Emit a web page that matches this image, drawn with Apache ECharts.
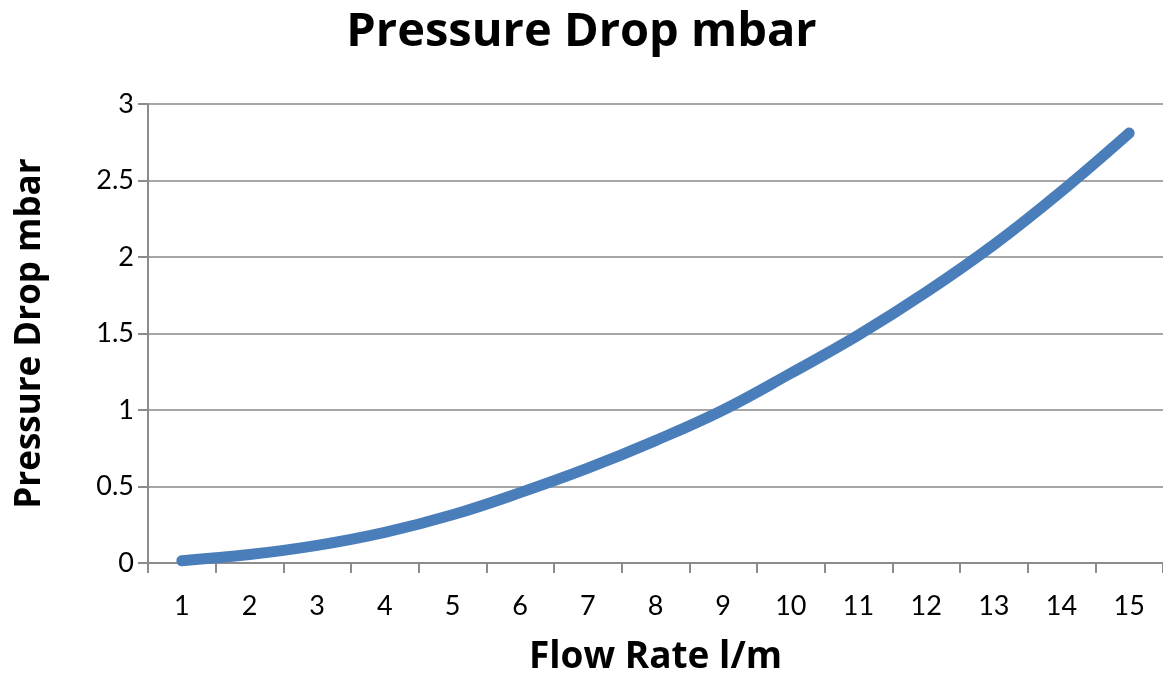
<!DOCTYPE html>
<html>
<head>
<meta charset="utf-8">
<script src="https://cdn.jsdelivr.net/npm/echarts@6/dist/echarts.min.js"></script>
<style>
  html, body { margin: 0; padding: 0; background: #fff; }
  #chart { width: 1163px; height: 681px; }
</style>
</head>
<body>
<div id="chart"></div>
<script>
// flow rate l/m
var flowRates = ['1', '2', '3', '4', '5', '6', '7', '8', '9', '10', '11', '12', '13', '14', '15'];
// pressure drop mbar
var pressureDrop = [0.015, 0.055, 0.115, 0.2, 0.315, 0.46, 0.62, 0.8, 1.0, 1.24, 1.49, 1.77, 2.08, 2.43, 2.81];
var yTicks = { min: 0, max: 3, interval: 0.5 };

var titleFont = '"Open Sans", Lato, sans-serif';
var tickFont = 'Lato, "Open Sans", sans-serif';
var axisGrey = '#8c8c8c';

var myChart = echarts.init(document.getElementById('chart'));
myChart.setOption({
    animation: false,
    title: {
        text: 'Pressure Drop mbar',
        left: 'center',
        top: 4,
        textStyle: { fontFamily: titleFont, fontSize: 47, fontWeight: 'bold', color: '#000' }
    },
    grid: { left: 148, right: 0, top: 104, bottom: 118 },
    xAxis: {
        type: 'category',
        data: flowRates,
        boundaryGap: true,
        name: 'Flow Rate l/m',
        nameLocation: 'middle',
        nameGap: 76,
        nameTextStyle: { fontFamily: titleFont, fontSize: 37, fontWeight: 'bold', color: '#000' },
        axisLine: { lineStyle: { color: axisGrey, width: 2 } },
        axisTick: { show: true, length: 10, lineStyle: { color: axisGrey, width: 2 } },
        axisLabel: { fontFamily: tickFont, fontSize: 27, color: '#000', margin: 30 }
    },
    yAxis: {
        type: 'value',
        min: yTicks.min,
        max: yTicks.max,
        interval: yTicks.interval,
        name: 'Pressure Drop mbar',
        nameLocation: 'middle',
        nameGap: 100,
        nameTextStyle: { fontFamily: titleFont, fontSize: 35, fontWeight: 'bold', color: '#000' },
        axisLine: { show: true, lineStyle: { color: axisGrey, width: 2 } },
        axisTick: { show: true, length: 10, lineStyle: { color: axisGrey, width: 2 } },
        axisLabel: { fontFamily: tickFont, fontSize: 27, color: '#000', margin: 14 },
        splitLine: { lineStyle: { color: '#a6a6a6', width: 2 } }
    },
    series: [
        {
            name: 'Pressure Drop',
            type: 'line',
            data: pressureDrop,
            smooth: 0.4,
            symbol: 'none',
            lineStyle: { color: '#4a7ebb', width: 11, cap: 'round' }
        }
    ]
});
</script>
</body>
</html>
